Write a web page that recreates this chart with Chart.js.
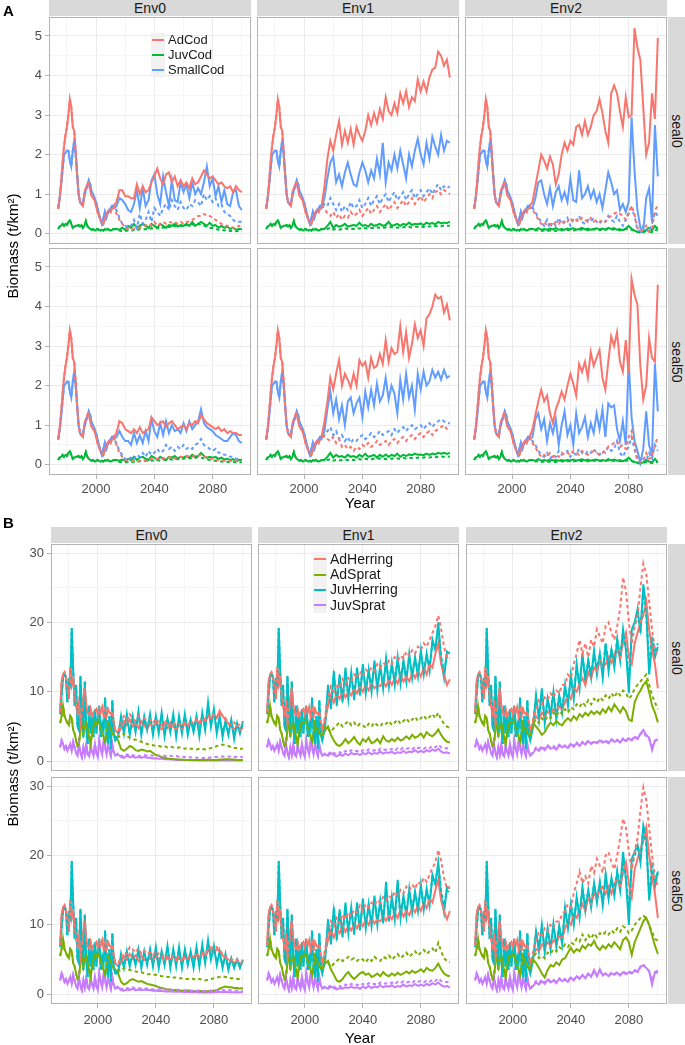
<!DOCTYPE html>
<html>
<head>
<meta charset="utf-8">
<script src="https://cdn.jsdelivr.net/npm/chart.js@4.4.0/dist/chart.umd.min.js"></script>
<style>
  body { margin: 0; background: #fff; font-family: "Liberation Sans", Arial, sans-serif; }
  #page { position: relative; width: 685px; height: 1045px; overflow: hidden; }
  canvas { position: absolute; }
  .strip { position: absolute; background: #d9d9d9; color: #1a1a1a; font-size: 14px;
           display: flex; align-items: center; justify-content: center; }
  .strip span.rot { transform: rotate(90deg); white-space: nowrap; display: inline-block; }
  .txt { position: absolute; white-space: nowrap; color: #000; }
  .key { position: absolute; background: #f2f2f2; }
  .key i { position: absolute; left: 1px; right: 1px; top: 50%; height: 2px; margin-top: -1px; }
</style>
</head>
<body>
<div id="page"></div>
<script>
// ---- years ----
const histYears = Array.from({ length: 39 }, (_, i) => 1974 + i);   // 1974..2012
const futYears = Array.from({ length: 44 }, (_, i) => 2014 + 2 * i); // 2014..2100
const years = histYears.concat(futYears);

// ================= Panel A : cod =================
const codNames = ["AdCod", "JuvCod", "SmallCod"];
const codColors = ["#F8766D", "#00BA38", "#619CFF"];

const adCodHist = [0.63, 0.9, 1.3, 1.8, 2.2, 2.5, 2.7, 3.0, 3.4, 3.2,
  2.7, 2.6, 2.1, 1.5, 1.0, 0.8, 0.75, 0.7, 1.05, 1.15,
  1.25, 1.3, 1.1, 0.95, 0.9, 0.85, 0.7, 0.55, 0.45, 0.35,
  0.3, 0.25, 0.35, 0.5, 0.55, 0.6, 0.55, 0.65, 0.7];
const juvCodHist = [0.12, 0.18, 0.2, 0.25, 0.2, 0.25, 0.22, 0.3, 0.34, 0.25,
  0.15, 0.18, 0.2, 0.2, 0.22, 0.18, 0.22, 0.15, 0.2, 0.32,
  0.2, 0.15, 0.12, 0.1, 0.12, 0.08, 0.1, 0.12, 0.1, 0.08,
  0.1, 0.08, 0.12, 0.1, 0.12, 0.1, 0.08, 0.1, 0.12];
const smallCodHist = [0.65, 0.9, 1.2, 1.6, 2.0, 2.05, 2.1, 2.1, 1.85, 1.7,
  2.1, 2.35, 2.0, 1.5, 1.0, 0.8, 0.75, 0.8, 0.95, 1.1,
  1.2, 1.35, 1.25, 1.05, 1.0, 0.9, 0.8, 0.65, 0.5, 0.35,
  0.25, 0.4, 0.55, 0.4, 0.5, 0.6, 0.65, 0.7, 0.65];

// Env0 seal0
const adCodE0S0 = [0.8, 1.1, 1.1, 0.95, 0.95, 0.9, 0.9, 1.25, 1.0, 1.2, 1.05,
  1.1, 1.3, 1.45, 1.65, 1.4, 1.25, 1.5, 1.55, 1.3, 1.45, 1.2,
  1.35, 1.2, 1.3, 1.15, 1.4, 1.25, 1.3, 1.45, 1.6, 1.5, 1.4,
  1.45, 1.35, 1.25, 1.3, 1.2, 1.15, 1.2, 1.05, 1.2, 1.1, 1.05];
const adCodE0S0Dash = [0.5, 0.35, 0.25, 0.15, 0.12, 0.1, 0.12, 0.15, 0.15, 0.2, 0.2,
  0.25, 0.2, 0.3, 0.2, 0.25, 0.3, 0.25, 0.3, 0.28, 0.3, 0.25,
  0.3, 0.25, 0.3, 0.3, 0.35, 0.4, 0.45, 0.45, 0.5, 0.45, 0.45,
  0.4, 0.35, 0.3, 0.25, 0.2, 0.2, 0.2, 0.15, 0.15, 0.2, 0.15];
const juvCodE0S0 = [0.12, 0.1, 0.15, 0.1, 0.2, 0.15, 0.25, 0.15, 0.2, 0.25, 0.2,
  0.15, 0.25, 0.2, 0.15, 0.25, 0.2, 0.15, 0.22, 0.2, 0.25, 0.18,
  0.22, 0.2, 0.25, 0.2, 0.3, 0.2, 0.25, 0.3, 0.25, 0.2, 0.28,
  0.2, 0.22, 0.15, 0.2, 0.15, 0.18, 0.12, 0.15, 0.1, 0.12, 0.12];
const juvCodE0S0Dash = [0.1, 0.08, 0.06, 0.07, 0.08, 0.07, 0.1, 0.08, 0.12, 0.1, 0.12,
  0.1, 0.14, 0.12, 0.15, 0.12, 0.16, 0.14, 0.18, 0.15, 0.2, 0.17,
  0.2, 0.18, 0.22, 0.2, 0.24, 0.22, 0.25, 0.22, 0.2, 0.18, 0.15,
  0.14, 0.12, 0.1, 0.1, 0.08, 0.09, 0.07, 0.08, 0.06, 0.07, 0.06];
const smallCodE0S0 = [0.7, 0.9, 0.85, 0.75, 0.6, 0.55, 0.75, 1.1, 0.65, 1.15, 0.7,
  0.85, 1.35, 1.5, 1.0, 0.75, 1.45, 1.05, 0.7, 1.35, 0.85, 0.8,
  1.3, 1.05, 1.25, 0.9, 1.3, 1.0, 1.15, 1.0, 1.3, 1.7, 1.2,
  1.4, 0.95, 1.2, 0.8, 1.1, 0.75, 0.7, 1.05, 1.1, 0.7, 0.6];
const smallCodE0S0Dash = [0.6, 0.4, 0.25, 0.2, 0.15, 0.2, 0.35, 0.15, 0.5, 0.25, 0.35,
  0.55, 0.3, 0.65, 0.55, 0.45, 0.65, 0.75, 0.6, 0.85, 0.7, 0.6,
  0.8, 0.65, 0.6, 0.75, 0.7, 0.85, 0.8, 0.7, 1.0, 0.85, 0.95,
  0.8, 0.9, 0.7, 0.75, 0.55, 0.5, 0.45, 0.35, 0.3, 0.3, 0.3];

// Env1 seal0
const adCodE1S0 = [1.2, 1.9, 2.35, 2.1, 2.5, 2.85, 2.25, 2.6, 2.3, 2.65, 2.25,
  2.7, 2.5, 2.35, 2.6, 3.0, 2.75, 3.05, 2.8, 3.15, 2.9, 3.45,
  3.1, 3.0, 3.3, 3.05, 3.55, 3.3, 3.6, 3.2, 3.45, 3.35, 3.9,
  3.6, 3.85, 3.6, 3.95, 4.15, 4.2, 4.6, 4.5, 4.25, 4.4, 3.95];
const adCodE1S0Dash = [0.65, 0.5, 0.45, 0.55, 0.4, 0.5, 0.35, 0.45, 0.4, 0.55, 0.45,
  0.5, 0.6, 0.45, 0.55, 0.65, 0.5, 0.6, 0.7, 0.55, 0.65, 0.75,
  0.6, 0.7, 0.8, 0.65, 0.75, 0.85, 0.7, 0.8, 0.9, 0.75, 0.85,
  0.95, 0.8, 0.9, 1.0, 0.9, 1.05, 1.1, 1.0, 1.1, 1.05, 1.0];
const juvCodE1S0 = [0.12, 0.2, 0.3, 0.15, 0.22, 0.18, 0.2, 0.25, 0.18, 0.2, 0.22,
  0.2, 0.28, 0.2, 0.22, 0.18, 0.25, 0.2, 0.22, 0.25, 0.2, 0.22,
  0.3, 0.2, 0.22, 0.25, 0.2, 0.25, 0.22, 0.28, 0.22, 0.25, 0.24,
  0.26, 0.22, 0.28, 0.25, 0.27, 0.24, 0.3, 0.26, 0.28, 0.27, 0.3];
const juvCodE1S0Dash = [0.1, 0.12, 0.15, 0.1, 0.12, 0.1, 0.12, 0.14, 0.12, 0.13, 0.12,
  0.14, 0.13, 0.15, 0.14, 0.13, 0.15, 0.14, 0.16, 0.15, 0.14, 0.16,
  0.15, 0.17, 0.16, 0.15, 0.17, 0.16, 0.18, 0.17, 0.16, 0.18, 0.17,
  0.18, 0.17, 0.19, 0.18, 0.2, 0.19, 0.2, 0.19, 0.21, 0.2, 0.2];
const smallCodE1S0 = [0.9, 1.4, 1.8, 1.95, 1.3, 1.5, 1.2, 1.55, 1.8, 1.5, 1.25,
  1.2, 1.55, 1.8, 1.6, 1.3, 1.6, 1.4, 1.9, 1.5, 2.3, 1.3,
  1.8, 1.6, 2.0, 1.65, 2.1, 1.75, 1.4, 2.0, 1.7, 2.1, 2.4,
  2.0, 1.75, 2.3, 1.9, 2.45, 2.2, 2.0, 2.5, 2.1, 2.35, 2.3];
const smallCodE1S0Dash = [0.75, 0.7, 0.9, 0.75, 0.6, 0.75, 0.55, 0.7, 0.6, 0.8, 0.65,
  0.7, 0.85, 0.65, 0.75, 0.9, 0.7, 0.85, 0.95, 0.75, 0.9, 1.0,
  0.8, 0.95, 1.05, 0.85, 0.95, 1.05, 0.85, 1.0, 1.1, 0.9, 1.0,
  1.1, 0.95, 1.05, 1.15, 1.0, 1.15, 1.25, 1.1, 1.2, 1.15, 1.2];

// Env2 seal0
const adCodE2S0 = [0.8, 1.2, 1.6, 2.0, 1.85, 1.65, 1.95, 1.75, 1.25, 1.5, 2.0,
  2.3, 2.1, 2.35, 2.25, 2.7, 2.75, 2.5, 2.85, 2.5, 2.7, 3.0,
  3.1, 3.4, 3.05, 2.6, 2.3, 3.55, 3.75, 3.55, 3.1, 2.7, 3.45,
  2.95, 3.0, 5.2, 4.7, 4.4, 3.2, 2.0, 2.3, 3.55, 2.9, 4.95];
const adCodE2S0Dash = [0.6, 0.5, 0.35, 0.25, 0.3, 0.2, 0.25, 0.2, 0.3, 0.25, 0.35,
  0.25, 0.3, 0.4, 0.3, 0.35, 0.3, 0.4, 0.35, 0.3, 0.4, 0.3,
  0.35, 0.3, 0.35, 0.3, 0.4, 0.45, 0.5, 0.55, 0.5, 0.45, 0.35,
  0.55, 0.7, 0.5, 0.15, 0.05, 0.1, 0.2, 0.05, 0.1, 0.6, 0.7];
const juvCodE2S0 = [0.12, 0.1, 0.14, 0.1, 0.12, 0.1, 0.13, 0.11, 0.14, 0.1, 0.12,
  0.1, 0.13, 0.11, 0.14, 0.1, 0.12, 0.15, 0.11, 0.13, 0.1, 0.12,
  0.14, 0.11, 0.13, 0.1, 0.15, 0.12, 0.14, 0.1, 0.12, 0.09, 0.13,
  0.2, 0.12, 0.08, 0.05, 0.04, 0.06, 0.1, 0.15, 0.08, 0.2, 0.12];
const juvCodE2S0Dash = [0.1, 0.08, 0.09, 0.07, 0.08, 0.07, 0.08, 0.09, 0.07, 0.08, 0.09,
  0.08, 0.1, 0.09, 0.08, 0.1, 0.09, 0.11, 0.1, 0.09, 0.1, 0.11,
  0.1, 0.09, 0.11, 0.1, 0.12, 0.1, 0.11, 0.1, 0.09, 0.1, 0.11,
  0.12, 0.1, 0.08, 0.04, 0.03, 0.04, 0.06, 0.05, 0.04, 0.1, 0.08];
const smallCodE2S0 = [0.65, 0.9, 1.3, 1.35, 1.0, 0.75, 1.15, 0.7, 1.05, 1.2, 0.85,
  1.05, 0.8, 1.4, 0.85, 0.8, 1.6, 0.9, 1.0, 1.2, 0.9, 1.1,
  0.8, 1.0, 0.65, 1.1, 1.55, 1.3, 1.0, 1.1, 0.6, 0.75, 0.55,
  0.8, 2.95, 1.6, 0.6, 0.15, 0.05, 0.9, 1.15, 0.3, 2.75, 1.45];
const smallCodE2S0Dash = [0.65, 0.55, 0.4, 0.3, 0.2, 0.35, 0.15, 0.3, 0.2, 0.4, 0.25,
  0.3, 0.4, 0.2, 0.35, 0.3, 0.45, 0.3, 0.25, 0.35, 0.3, 0.4,
  0.3, 0.25, 0.35, 0.3, 0.45, 0.35, 0.3, 0.45, 0.3, 0.2, 0.35,
  0.5, 0.65, 0.45, 0.1, 0.05, 0.2, 0.1, 0.05, 0.25, 0.55, 0.45];

// Env0 seal50
const adCodE0S50 = [0.8, 1.1, 1.05, 0.9, 0.85, 0.8, 0.9, 0.8, 0.95, 0.8, 0.85,
  0.9, 1.2, 1.1, 1.0, 1.05, 1.1, 0.95, 1.05, 1.1, 1.0, 0.9,
  0.95, 1.0, 0.9, 1.05, 1.0, 1.1, 1.05, 1.25, 1.15, 1.05, 1.0,
  0.95, 0.9, 0.95, 0.85, 0.9, 0.8, 0.85, 0.8, 0.8, 0.75, 0.75];
const adCodE0S50Dash = [0.5, 0.3, 0.2, 0.12, 0.1, 0.08, 0.1, 0.08, 0.1, 0.12, 0.1,
  0.12, 0.15, 0.12, 0.15, 0.18, 0.15, 0.2, 0.18, 0.2, 0.15, 0.18,
  0.2, 0.18, 0.2, 0.22, 0.2, 0.25, 0.22, 0.25, 0.2, 0.18, 0.15,
  0.15, 0.12, 0.12, 0.1, 0.1, 0.08, 0.1, 0.08, 0.1, 0.08, 0.1];
const juvCodE0S50 = [0.12, 0.1, 0.13, 0.1, 0.15, 0.12, 0.2, 0.12, 0.18, 0.2, 0.15,
  0.12, 0.22, 0.18, 0.12, 0.2, 0.15, 0.12, 0.2, 0.18, 0.22, 0.15,
  0.2, 0.18, 0.22, 0.18, 0.25, 0.2, 0.22, 0.3, 0.22, 0.18, 0.2,
  0.18, 0.2, 0.15, 0.18, 0.13, 0.15, 0.12, 0.14, 0.1, 0.12, 0.12];
const juvCodE0S50Dash = [0.1, 0.07, 0.06, 0.06, 0.07, 0.06, 0.08, 0.07, 0.09, 0.08, 0.1,
  0.09, 0.11, 0.1, 0.12, 0.1, 0.13, 0.12, 0.14, 0.13, 0.15, 0.14,
  0.16, 0.15, 0.17, 0.16, 0.18, 0.17, 0.2, 0.18, 0.16, 0.14, 0.12,
  0.11, 0.1, 0.09, 0.08, 0.07, 0.07, 0.06, 0.07, 0.06, 0.06, 0.06];
const smallCodE0S50 = [0.7, 0.85, 0.7, 0.6, 0.6, 0.5, 0.8, 0.55, 0.75, 0.55, 0.85,
  0.6, 1.15, 0.85, 0.7, 1.05, 0.75, 1.1, 0.8, 1.0, 0.85, 0.9,
  0.8, 1.05, 0.85, 1.1, 0.9, 1.0, 1.1, 1.4, 1.05, 0.95, 0.9,
  0.85, 0.75, 0.7, 0.65, 0.6, 0.6, 0.7, 0.8, 0.75, 0.6, 0.55];
const smallCodE0S50Dash = [0.55, 0.35, 0.25, 0.15, 0.1, 0.2, 0.15, 0.25, 0.2, 0.3, 0.2,
  0.35, 0.25, 0.3, 0.4, 0.3, 0.35, 0.5, 0.4, 0.45, 0.35, 0.45,
  0.4, 0.5, 0.4, 0.45, 0.4, 0.5, 0.55, 0.65, 0.5, 0.45, 0.4,
  0.35, 0.4, 0.3, 0.3, 0.25, 0.25, 0.2, 0.2, 0.15, 0.15, 0.15];

// Env1 seal50
const adCodE1S50 = [1.1, 1.6, 2.2, 1.9, 2.3, 2.65, 2.0, 2.3, 2.15, 1.95, 2.3,
  2.0, 2.65, 2.5, 2.6, 2.2, 2.7, 2.45, 2.5, 2.8, 2.55, 3.15,
  2.6, 2.95, 2.8, 2.85, 3.5, 2.85, 3.35, 2.7, 3.05, 3.55, 3.2,
  3.4, 3.0, 3.7, 3.8, 4.0, 4.3, 4.2, 4.25, 3.85, 4.05, 3.65];
const adCodE1S50Dash = [0.7, 0.65, 0.6, 0.7, 0.55, 0.65, 0.45, 0.5, 0.4, 0.45, 0.35,
  0.45, 0.4, 0.5, 0.45, 0.55, 0.45, 0.5, 0.6, 0.5, 0.55, 0.6,
  0.5, 0.6, 0.65, 0.55, 0.65, 0.7, 0.6, 0.7, 0.75, 0.65, 0.75,
  0.8, 0.7, 0.8, 0.85, 0.75, 0.85, 0.9, 0.95, 1.0, 0.9, 0.85];
const juvCodE1S50 = [0.12, 0.2, 0.3, 0.18, 0.25, 0.2, 0.22, 0.18, 0.25, 0.2, 0.22,
  0.18, 0.25, 0.2, 0.28, 0.2, 0.22, 0.25, 0.18, 0.25, 0.2, 0.26,
  0.2, 0.25, 0.22, 0.28, 0.2, 0.25, 0.22, 0.26, 0.24, 0.28, 0.25,
  0.26, 0.24, 0.28, 0.25, 0.28, 0.26, 0.3, 0.28, 0.3, 0.27, 0.3];
const juvCodE1S50Dash = [0.1, 0.12, 0.14, 0.1, 0.12, 0.11, 0.12, 0.13, 0.12, 0.13, 0.12,
  0.13, 0.14, 0.13, 0.15, 0.14, 0.13, 0.15, 0.14, 0.16, 0.15, 0.14,
  0.16, 0.15, 0.17, 0.16, 0.15, 0.17, 0.16, 0.18, 0.17, 0.16, 0.18,
  0.17, 0.18, 0.19, 0.18, 0.2, 0.19, 0.2, 0.21, 0.2, 0.21, 0.2];
const smallCodE1S50 = [0.85, 1.4, 1.85, 1.3, 1.65, 1.15, 1.5, 1.0, 1.6, 1.7, 1.3,
  1.55, 1.7, 1.2, 1.85, 1.45, 1.9, 1.5, 2.05, 1.6, 1.75, 2.2,
  1.65, 2.0, 1.8, 1.3, 2.15, 1.65, 2.3, 1.7, 2.0, 1.4, 2.3,
  1.9, 2.35, 2.0, 2.1, 2.4, 2.2, 2.35, 2.15, 2.4, 2.2, 2.25];
const smallCodE1S50Dash = [0.75, 0.85, 0.95, 0.75, 0.85, 0.65, 0.75, 0.6, 0.7, 0.55, 0.65,
  0.6, 0.7, 0.75, 0.65, 0.7, 0.8, 0.7, 0.75, 0.85, 0.75, 0.8,
  0.85, 0.75, 0.9, 0.8, 0.9, 0.95, 0.85, 0.95, 1.0, 0.9, 0.95,
  1.0, 0.9, 1.0, 1.05, 0.95, 1.05, 1.1, 1.15, 1.1, 1.05, 1.05];

// Env2 seal50
const adCodE2S50 = [0.9, 1.25, 1.6, 1.9, 1.6, 1.75, 1.3, 1.05, 1.4, 1.6, 1.85,
  1.65, 2.0, 2.3, 2.05, 1.75, 2.55, 2.35, 2.6, 2.2, 2.85, 2.5,
  2.7, 2.9, 2.2, 1.9, 2.6, 3.25, 3.0, 3.35, 2.6, 2.35, 3.15,
  2.3, 4.7, 4.3, 4.05, 2.5, 1.65, 2.0, 3.2, 2.7, 2.6, 4.55];
const adCodE2S50Dash = [0.55, 0.45, 0.3, 0.2, 0.25, 0.2, 0.3, 0.2, 0.25, 0.2, 0.3,
  0.25, 0.3, 0.25, 0.35, 0.3, 0.25, 0.35, 0.3, 0.25, 0.3, 0.35,
  0.3, 0.25, 0.3, 0.35, 0.45, 0.5, 0.55, 0.6, 0.45, 0.5, 0.4,
  0.7, 0.85, 0.45, 0.15, 0.05, 0.1, 0.3, 0.15, 0.2, 0.5, 0.7];
const juvCodE2S50 = [0.12, 0.1, 0.14, 0.1, 0.12, 0.1, 0.13, 0.11, 0.12, 0.1, 0.12,
  0.1, 0.12, 0.11, 0.13, 0.1, 0.12, 0.14, 0.11, 0.13, 0.1, 0.12,
  0.13, 0.1, 0.12, 0.1, 0.14, 0.11, 0.13, 0.1, 0.12, 0.09, 0.12,
  0.18, 0.1, 0.07, 0.05, 0.04, 0.06, 0.12, 0.08, 0.06, 0.15, 0.06];
const juvCodE2S50Dash = [0.1, 0.08, 0.09, 0.07, 0.08, 0.07, 0.08, 0.08, 0.07, 0.08, 0.09,
  0.08, 0.09, 0.09, 0.08, 0.1, 0.09, 0.1, 0.09, 0.09, 0.1, 0.1,
  0.1, 0.09, 0.1, 0.09, 0.11, 0.1, 0.1, 0.09, 0.09, 0.1, 0.1,
  0.11, 0.09, 0.07, 0.04, 0.03, 0.04, 0.07, 0.05, 0.04, 0.08, 0.06];
const smallCodE2S50 = [0.7, 1.15, 1.3, 0.9, 1.15, 0.6, 1.05, 0.8, 1.15, 0.5, 1.0,
  1.35, 0.75, 1.0, 0.5, 1.3, 0.8, 0.95, 1.2, 0.7, 1.05, 0.8,
  1.3, 0.9, 1.4, 0.7, 1.55, 1.45, 1.5, 0.9, 0.6, 1.1, 0.5,
  2.65, 1.2, 0.6, 0.35, 0.05, 0.4, 1.35, 0.5, 0.25, 2.55, 1.35];
const smallCodE2S50Dash = [0.6, 0.5, 0.35, 0.25, 0.2, 0.3, 0.15, 0.25, 0.2, 0.35, 0.25,
  0.3, 0.35, 0.2, 0.3, 0.25, 0.4, 0.3, 0.25, 0.35, 0.3, 0.4,
  0.3, 0.25, 0.35, 0.3, 0.45, 0.35, 0.4, 0.6, 0.3, 0.2, 0.35,
  0.45, 0.7, 0.4, 0.1, 0.05, 0.15, 0.1, 0.3, 0.15, 0.5, 0.35];

// ================= Panel B : herring & sprat =================
const fishNames = ["AdHerring", "AdSprat", "JuvHerring", "JuvSprat"];
const fishColors = ["#F8766D", "#7CAE00", "#00BFC4", "#C77CFF"];

const adHerringHist = [7.0, 11.5, 12.5, 12.8, 12.0, 10.5, 9.0, 13.5, 11.0, 12.0,
  9.5, 8.0, 7.0, 8.5, 5.5, 7.0, 9.0, 10.5, 8.0, 7.0,
  6.5, 7.5, 6.5, 7.0, 7.2, 7.5, 6.8, 7.6, 7.0, 7.8,
  6.5, 7.5, 6.5, 7.5, 7.0, 6.8, 7.2, 5.5, 4.5];
const adSpratHist = [5.5, 6.5, 8.0, 6.5, 6.0, 5.5, 5.2, 6.5, 6.2, 4.5,
  4.0, 3.0, 2.2, 2.5, 4.5, 5.5, 4.0, 5.0, 5.5, 4.5,
  3.5, 2.5, 4.0, 5.0, 5.8, 5.5, 6.0, 5.5, 4.8, 4.0,
  3.5, 2.8, 4.0, 5.5, 5.0, 4.5, 4.0, 3.8, 3.5];
const juvHerringHist = [6.8, 9.5, 12.0, 12.5, 12.2, 8.5, 12.0, 10.5, 19.2, 13.0,
  8.0, 11.0, 5.0, 4.5, 12.3, 7.0, 3.5, 11.5, 5.0, 2.5,
  8.0, 4.0, 6.5, 3.5, 7.5, 4.0, 6.5, 8.0, 3.5, 5.5,
  4.5, 9.2, 4.0, 2.5, 6.5, 1.8, 8.8, 4.0, 3.0];
const juvSpratHist = [2.0, 3.0, 2.5, 1.8, 2.2, 1.5, 2.0, 2.5, 1.5, 2.8,
  2.0, 1.2, 0.8, 2.5, 1.2, 0.6, 2.0, 1.0, 2.5, 1.0,
  0.7, 2.2, 1.5, 0.8, 2.5, 1.2, 0.6, 3.0, 1.8, 1.0,
  3.0, 2.0, 1.0, 2.5, 1.5, 0.8, 2.4, 1.3, 0.8];

// Env0 seal0
const adHerE0S0 = [4.0, 4.8, 5.8, 5.2, 6.0, 5.0, 5.5, 4.8, 5.8, 5.2, 4.6,
  5.5, 4.8, 5.6, 5.0, 4.6, 5.4, 4.8, 5.6, 5.0, 4.5, 5.3,
  4.7, 5.5, 5.0, 5.8, 5.2, 6.0, 5.4, 6.2, 5.6, 6.5, 6.0,
  6.8, 6.2, 7.3, 6.5, 6.0, 5.4, 5.0, 4.6, 5.0, 4.5, 4.8];
const adHerE0S0Dash = [4.5, 5.5, 6.5, 6.0, 6.8, 6.2, 5.8, 6.5, 5.6, 6.2, 5.8,
  6.0, 5.5, 6.2, 5.6, 5.2, 5.8, 5.4, 5.0, 5.6, 5.2, 5.4,
  5.0, 5.6, 5.2, 5.8, 5.4, 6.0, 5.6, 6.3, 6.0, 6.6, 6.2,
  6.8, 6.4, 7.0, 6.6, 6.2, 5.6, 5.2, 5.6, 5.0, 5.4, 5.6];
const adSprE0S0 = [3.0, 1.8, 1.5, 1.8, 2.2, 2.0, 1.6, 1.5, 1.7, 1.6, 1.4,
  1.5, 1.2, 0.9, 0.8, 0.6, 0.5, 0.4, 0.35, 0.3, 0.3, 0.25,
  0.25, 0.2, 0.2, 0.2, 0.2, 0.2, 0.2, 0.2, 0.2, 0.25, 0.2,
  0.2, 0.2, 0.25, 0.25, 0.3, 0.3, 0.25, 0.25, 0.2, 0.2, 0.2];
const adSprE0S0Dash = [3.5, 3.6, 4.0, 3.6, 3.4, 3.2, 3.1, 3.0, 2.8, 2.6, 2.5,
  2.4, 2.3, 2.2, 2.2, 2.1, 2.2, 2.0, 2.1, 2.0, 1.9, 2.0,
  1.9, 1.8, 1.9, 1.8, 1.8, 1.7, 1.8, 1.8, 1.7, 1.8, 1.9,
  2.0, 2.2, 2.3, 2.4, 2.3, 2.2, 2.0, 1.9, 1.9, 1.8, 1.8];
const juvHerE0S0 = [3.5, 6.5, 4.0, 6.8, 3.8, 6.5, 4.2, 7.2, 3.8, 6.5, 4.5,
  6.8, 3.8, 6.5, 4.0, 7.0, 3.6, 6.2, 4.2, 6.8, 3.5, 6.5,
  4.0, 6.8, 3.8, 6.0, 4.2, 6.5, 3.6, 7.0, 4.5, 8.5, 5.0,
  7.5, 4.0, 6.5, 3.5, 5.8, 3.8, 6.0, 3.2, 5.5, 4.0, 5.8];
const juvHerE0S0Dash = [4.0, 5.8, 4.5, 6.2, 4.2, 5.8, 4.8, 6.5, 4.2, 6.0, 4.8,
  6.2, 4.4, 6.0, 4.6, 6.5, 4.2, 5.8, 4.8, 6.2, 4.2, 6.0,
  4.6, 6.4, 4.4, 5.8, 4.8, 6.2, 4.2, 6.6, 5.0, 7.5, 5.4,
  7.0, 4.6, 6.0, 4.2, 5.5, 4.4, 5.6, 4.0, 5.2, 4.5, 5.2];
const juvSprE0S0 = [1.0, 0.6, 0.5, 0.8, 0.6, 0.7, 0.5, 0.6, 0.5, 0.6, 0.5,
  0.5, 0.4, 0.45, 0.35, 0.4, 0.3, 0.3, 0.25, 0.25, 0.2, 0.2,
  0.2, 0.18, 0.18, 0.15, 0.15, 0.15, 0.12, 0.12, 0.12, 0.12, 0.1,
  0.1, 0.1, 0.1, 0.1, 0.1, 0.1, 0.1, 0.1, 0.1, 0.1, 0.1];
const juvSprE0S0Dash = [1.2, 0.8, 0.7, 1.0, 0.8, 0.9, 0.7, 0.8, 0.7, 0.9, 0.8,
  0.9, 0.8, 0.85, 0.8, 0.9, 0.8, 0.75, 0.8, 0.7, 0.75, 0.65,
  0.7, 0.6, 0.65, 0.55, 0.6, 0.5, 0.5, 0.45, 0.5, 0.5, 0.55,
  0.6, 0.6, 0.65, 0.7, 0.65, 0.7, 0.65, 0.6, 0.65, 0.6, 0.6];

// Env1 seal0
const adHerE1S0 = [6.0, 8.0, 9.5, 8.5, 9.8, 9.0, 10.2, 9.2, 10.0, 9.5, 10.5,
  9.8, 10.8, 10.0, 11.0, 10.2, 11.2, 10.5, 11.0, 10.8, 11.5, 10.8,
  11.8, 11.0, 12.0, 11.2, 12.5, 11.5, 12.2, 11.5, 12.8, 12.0, 13.0,
  12.2, 13.5, 12.5, 14.0, 13.5, 15.5, 17.0, 14.0, 12.5, 11.0, 11.8];
const adHerE1S0Dash = [6.5, 9.0, 10.8, 10.0, 11.2, 10.5, 11.8, 11.0, 12.0, 11.5, 12.5,
  12.0, 13.0, 12.2, 13.2, 12.8, 13.5, 13.0, 14.0, 13.5, 14.2, 13.8,
  14.5, 14.0, 15.0, 14.5, 15.2, 14.8, 15.8, 15.2, 16.0, 15.5, 16.5,
  16.0, 17.0, 16.5, 17.5, 18.5, 19.5, 21.0, 19.0, 16.5, 15.0, 15.2];
const adSprE1S0 = [4.5, 5.0, 3.8, 3.0, 2.4, 2.2, 2.6, 3.2, 2.6, 3.0, 3.5,
  2.8, 2.4, 3.2, 2.8, 3.4, 2.6, 2.8, 3.2, 2.6, 3.6, 3.0,
  2.8, 3.2, 2.9, 3.4, 3.0, 3.2, 3.6, 3.2, 3.8, 3.4, 3.6,
  4.0, 3.4, 4.2, 3.8, 3.6, 4.0, 4.6, 3.8, 3.2, 2.8, 2.7];
const adSprE1S0Dash = [5.0, 4.6, 4.2, 4.8, 5.2, 5.6, 5.0, 5.4, 5.8, 5.2, 5.6,
  5.0, 5.4, 5.2, 4.8, 5.4, 5.0, 5.6, 5.2, 5.0, 5.6, 5.4,
  5.8, 5.2, 5.6, 6.0, 5.4, 5.8, 6.2, 5.6, 6.0, 6.4, 5.8,
  6.2, 6.6, 6.0, 6.4, 6.8, 6.2, 7.0, 6.0, 5.4, 5.0, 4.8];
const juvHerE1S0 = [5.0, 11.0, 7.5, 13.0, 8.0, 12.5, 8.5, 13.5, 9.0, 12.8, 8.8,
  13.5, 9.5, 14.0, 9.8, 13.2, 10.0, 14.5, 10.2, 13.8, 10.5, 14.8,
  10.8, 14.2, 11.0, 15.0, 11.2, 14.5, 11.5, 15.5, 12.0, 15.0, 12.2,
  16.0, 12.5, 15.5, 13.0, 17.5, 16.0, 20.0, 14.5, 12.0, 15.8, 15.5];
const juvHerE1S0Dash = [5.5, 10.2, 8.0, 12.2, 8.8, 11.8, 9.2, 12.5, 9.6, 12.2, 9.8,
  12.8, 10.2, 13.2, 10.5, 12.8, 10.8, 13.8, 11.0, 13.2, 11.2, 14.0,
  11.5, 13.8, 11.8, 14.5, 12.0, 14.2, 12.2, 15.0, 12.8, 14.8, 13.0,
  15.5, 13.2, 15.0, 13.8, 17.0, 16.5, 19.0, 15.0, 13.0, 15.2, 14.8];
const juvSprE1S0 = [1.0, 0.8, 1.2, 0.9, 0.7, 1.0, 0.8, 1.1, 0.9, 1.2, 1.0,
  1.1, 0.9, 1.2, 1.0, 1.3, 1.0, 1.2, 1.1, 1.4, 1.1, 1.3,
  1.2, 1.4, 1.1, 1.3, 1.2, 1.5, 1.2, 1.4, 1.3, 1.6, 1.3,
  1.5, 1.3, 1.6, 1.4, 1.7, 1.5, 1.8, 1.4, 1.2, 1.3, 1.1];
const juvSprE1S0Dash = [1.2, 1.0, 1.4, 1.2, 1.0, 1.3, 1.1, 1.5, 1.3, 1.6, 1.4,
  1.5, 1.3, 1.6, 1.4, 1.7, 1.5, 1.6, 1.4, 1.8, 1.6, 1.7,
  1.6, 1.8, 1.5, 1.9, 1.7, 2.0, 1.8, 1.9, 1.7, 2.1, 1.9,
  2.0, 1.8, 2.1, 1.9, 2.2, 2.0, 2.4, 2.0, 1.8, 1.9, 1.7];

// Env2 seal0
const adHerE2S0 = [5.5, 6.5, 6.0, 7.0, 6.5, 7.2, 6.8, 7.5, 7.0, 8.0, 7.5,
  8.5, 9.5, 9.0, 10.5, 10.0, 11.2, 12.0, 11.0, 12.8, 12.0, 13.5,
  13.0, 14.5, 13.5, 14.0, 15.0, 14.2, 15.5, 16.0, 15.0, 17.0, 18.5,
  15.0, 14.0, 17.0, 18.5, 20.0, 21.0, 23.0, 19.0, 16.0, 14.0, 10.5];
const adHerE2S0Dash = [6.0, 7.5, 8.8, 8.2, 9.2, 8.8, 9.8, 9.2, 10.2, 9.8, 11.0,
  11.0, 12.5, 12.0, 14.0, 15.5, 17.5, 15.5, 17.0, 15.0, 17.5, 16.5,
  19.0, 18.0, 17.0, 19.5, 20.0, 18.5, 17.5, 19.5, 22.0, 26.5, 24.5,
  20.0, 17.0, 19.5, 21.0, 25.0, 28.5, 27.0, 23.0, 19.0, 16.0, 15.0];
const adSprE2S0 = [5.5, 5.0, 4.5, 3.8, 4.2, 5.0, 5.6, 5.2, 5.8, 5.4, 5.2,
  5.8, 6.2, 5.8, 6.5, 6.0, 6.8, 6.4, 7.0, 6.6, 7.2, 6.8,
  7.2, 6.8, 7.5, 7.0, 7.8, 7.2, 8.2, 7.6, 7.0, 7.8, 7.2,
  6.0, 5.8, 8.5, 9.5, 10.2, 11.0, 11.5, 10.0, 8.0, 7.0, 5.6];
const adSprE2S0Dash = [5.5, 6.0, 5.5, 6.2, 5.8, 6.5, 6.2, 7.0, 6.5, 7.2, 6.8,
  7.5, 7.0, 7.8, 7.5, 8.2, 7.8, 8.5, 8.0, 8.8, 8.2, 9.0,
  8.5, 9.2, 8.8, 9.5, 9.0, 9.8, 9.2, 10.0, 9.5, 10.2, 9.8,
  9.0, 9.5, 10.5, 11.0, 11.5, 12.0, 12.5, 11.0, 9.5, 8.5, 7.5];
const juvHerE2S0 = [5.0, 9.5, 6.0, 10.5, 5.5, 9.0, 6.5, 10.0, 6.0, 9.5, 7.0,
  11.0, 8.0, 12.5, 9.0, 14.0, 10.5, 15.5, 11.5, 14.5, 12.0, 16.0,
  12.5, 15.5, 12.0, 17.0, 13.0, 16.0, 13.5, 17.5, 14.5, 19.0, 16.0,
  9.8, 19.0, 20.0, 22.0, 18.5, 25.5, 22.0, 12.5, 17.0, 15.0, 16.5];
const juvHerE2S0Dash = [5.5, 9.0, 6.5, 10.0, 6.0, 9.0, 7.0, 9.8, 6.8, 9.5, 7.5,
  10.5, 8.5, 12.0, 9.5, 13.5, 11.0, 15.0, 12.0, 14.5, 12.5, 15.5,
  13.5, 15.5, 13.0, 17.0, 14.0, 16.0, 14.5, 17.5, 15.0, 18.5, 16.5,
  12.0, 18.0, 19.5, 21.0, 19.0, 24.5, 21.0, 14.0, 18.0, 16.0, 17.0];
const juvSprE2S0 = [1.2, 1.8, 1.5, 2.0, 1.6, 2.2, 1.8, 2.0, 1.7, 2.3, 2.0,
  2.2, 1.9, 2.5, 2.1, 2.6, 2.2, 2.7, 2.4, 2.9, 2.5, 2.8,
  2.6, 3.0, 2.7, 2.9, 2.6, 3.1, 2.8, 3.0, 2.7, 3.2, 2.9,
  3.3, 3.0, 3.5, 3.2, 4.0, 4.5, 3.8, 3.4, 1.6, 3.0, 3.2];
const juvSprE2S0Dash = [1.4, 2.0, 1.7, 2.2, 1.8, 2.3, 2.0, 2.2, 1.9, 2.4, 2.1,
  2.3, 2.0, 2.6, 2.2, 2.7, 2.3, 2.8, 2.5, 3.0, 2.6, 2.9,
  2.7, 3.1, 2.8, 3.0, 2.7, 3.2, 2.9, 3.1, 2.8, 3.3, 3.0,
  3.4, 3.1, 3.6, 3.3, 3.9, 4.2, 3.6, 3.2, 2.2, 2.9, 3.1];

// Env0 seal50
const adHerE0S50 = [4.0, 4.5, 5.5, 5.0, 5.8, 5.2, 5.6, 4.8, 5.5, 5.0, 4.8,
  5.3, 4.8, 5.5, 5.0, 5.4, 4.8, 5.2, 5.0, 5.5, 4.8, 5.2,
  4.8, 5.4, 5.0, 5.6, 5.2, 5.6, 5.2, 5.8, 5.5, 6.2, 6.5,
  6.0, 6.5, 6.2, 5.6, 5.2, 5.0, 4.8, 4.5, 4.8, 4.4, 4.6];
const adHerE0S50Dash = [4.5, 5.2, 6.0, 5.8, 6.8, 6.5, 6.0, 6.6, 5.8, 6.3, 5.8,
  6.0, 5.6, 6.2, 5.8, 5.4, 5.8, 5.4, 5.2, 5.6, 5.2, 5.4,
  5.0, 5.4, 5.2, 5.6, 5.4, 5.8, 5.5, 6.0, 5.8, 6.4, 6.8,
  6.5, 6.8, 6.4, 5.8, 5.4, 5.2, 5.0, 4.8, 5.0, 4.6, 4.8];
const adSprE0S50 = [3.0, 1.8, 1.4, 1.6, 2.0, 2.2, 2.0, 1.8, 1.9, 1.7, 1.5,
  1.4, 1.3, 1.2, 1.0, 0.9, 0.8, 0.7, 0.7, 0.6, 0.6, 0.55,
  0.5, 0.5, 0.55, 0.5, 0.45, 0.45, 0.5, 0.45, 0.4, 0.45, 0.5,
  0.5, 0.6, 0.8, 1.0, 1.1, 1.0, 1.0, 0.9, 0.9, 0.85, 0.9];
const adSprE0S50Dash = [3.5, 3.4, 3.8, 3.6, 3.5, 3.4, 3.3, 3.2, 3.2, 3.0, 2.9,
  2.9, 2.8, 2.8, 2.7, 2.6, 2.6, 2.5, 2.5, 2.4, 2.4, 2.3,
  2.3, 2.2, 2.2, 2.3, 2.2, 2.1, 2.2, 2.1, 2.0, 2.1, 2.2,
  2.3, 2.4, 2.5, 2.6, 2.5, 2.4, 2.3, 2.3, 2.2, 2.2, 2.3];
const juvHerE0S50 = [3.0, 5.8, 3.8, 6.2, 4.0, 5.8, 4.2, 6.5, 3.8, 6.2, 4.2,
  6.5, 4.0, 6.8, 3.8, 6.2, 4.2, 7.0, 3.8, 6.5, 4.0, 6.8,
  3.8, 6.5, 4.2, 6.2, 3.8, 6.8, 4.0, 7.2, 4.5, 7.8, 5.0,
  7.0, 4.2, 6.2, 3.8, 5.8, 3.5, 5.2, 3.8, 5.0, 3.8, 5.0];
const juvHerE0S50Dash = [3.5, 5.2, 4.2, 5.8, 4.5, 5.5, 4.6, 6.0, 4.2, 5.8, 4.6,
  6.0, 4.4, 6.2, 4.2, 5.8, 4.6, 6.4, 4.2, 6.0, 4.4, 6.2,
  4.2, 6.0, 4.6, 5.8, 4.2, 6.2, 4.4, 6.6, 4.8, 7.2, 5.4,
  6.6, 4.6, 5.8, 4.2, 5.4, 4.0, 5.0, 4.2, 4.8, 4.2, 4.8];
const juvSprE0S50 = [1.0, 0.6, 0.5, 0.7, 0.6, 0.8, 0.6, 0.7, 0.6, 0.7, 0.6,
  0.6, 0.5, 0.55, 0.45, 0.5, 0.4, 0.45, 0.4, 0.35, 0.4, 0.35,
  0.35, 0.3, 0.35, 0.3, 0.3, 0.3, 0.25, 0.3, 0.25, 0.3, 0.25,
  0.3, 0.3, 0.35, 0.3, 0.35, 0.3, 0.3, 0.3, 0.25, 0.3, 0.3];
const juvSprE0S50Dash = [1.2, 0.8, 0.7, 0.9, 0.8, 1.0, 0.8, 0.9, 0.8, 0.9, 0.8,
  0.8, 0.7, 0.75, 0.7, 0.8, 0.7, 0.65, 0.7, 0.6, 0.65, 0.6,
  0.6, 0.55, 0.6, 0.5, 0.55, 0.5, 0.5, 0.45, 0.5, 0.45, 0.5,
  0.5, 0.5, 0.55, 0.6, 0.55, 0.6, 0.55, 0.5, 0.55, 0.5, 0.5];

// Env1 seal50
const adHerE1S50 = [6.0, 7.8, 9.2, 8.2, 9.5, 8.8, 10.0, 9.0, 9.8, 9.2, 10.2,
  9.5, 10.5, 9.8, 10.8, 10.0, 11.0, 10.2, 10.8, 10.5, 11.2, 10.6,
  11.5, 10.8, 11.8, 11.0, 12.2, 11.2, 12.0, 11.4, 12.5, 11.8, 12.8,
  12.0, 13.2, 12.4, 13.8, 13.2, 15.0, 16.5, 13.5, 12.0, 10.8, 12.0];
const adHerE1S50Dash = [6.5, 8.8, 10.5, 9.8, 11.0, 10.2, 11.5, 10.8, 11.8, 11.2, 12.2,
  11.8, 12.8, 12.0, 13.0, 12.5, 13.2, 12.8, 13.6, 13.2, 14.0, 13.5,
  14.2, 13.8, 14.8, 14.2, 15.0, 14.5, 15.5, 15.0, 15.8, 15.2, 16.2,
  15.8, 16.8, 16.2, 17.2, 18.2, 19.0, 20.8, 19.2, 16.8, 15.2, 15.5];
const adSprE1S50 = [4.5, 4.8, 3.6, 2.8, 2.0, 1.8, 2.2, 2.8, 3.2, 2.6, 2.2,
  2.6, 3.0, 3.2, 2.8, 3.0, 2.5, 2.7, 3.0, 2.6, 3.2, 2.8,
  2.6, 3.0, 2.7, 3.1, 2.8, 3.0, 3.3, 3.0, 3.4, 3.1, 3.3,
  3.6, 3.2, 3.8, 3.5, 3.4, 3.8, 4.4, 3.6, 3.0, 2.7, 2.6];
const adSprE1S50Dash = [5.0, 4.5, 4.0, 4.4, 4.8, 5.2, 4.8, 5.0, 5.4, 5.0, 5.2,
  4.8, 5.2, 5.0, 4.6, 5.2, 4.8, 5.4, 5.0, 4.8, 5.4, 5.2,
  5.6, 5.0, 5.4, 5.8, 5.2, 5.6, 6.0, 5.4, 5.8, 6.2, 5.6,
  6.0, 6.4, 5.8, 6.2, 6.6, 6.0, 7.4, 6.2, 5.2, 4.8, 4.6];
const juvHerE1S50 = [5.0, 10.8, 7.2, 12.5, 7.8, 12.2, 8.2, 13.2, 8.8, 12.5, 8.6,
  13.2, 9.2, 13.8, 9.5, 13.0, 9.8, 14.2, 10.0, 13.5, 10.2, 16.2,
  10.5, 14.0, 10.8, 16.5, 11.0, 14.2, 11.2, 15.2, 11.8, 14.8, 12.0,
  15.8, 12.2, 15.2, 12.8, 17.2, 15.8, 19.0, 14.2, 11.8, 15.5, 15.2];
const juvHerE1S50Dash = [5.5, 10.0, 7.8, 12.0, 8.5, 11.5, 9.0, 12.2, 9.4, 12.0, 9.6,
  12.5, 10.0, 13.0, 10.2, 12.5, 10.5, 13.5, 10.8, 13.0, 11.0, 14.5,
  11.2, 13.5, 11.5, 14.8, 11.8, 14.0, 12.0, 14.8, 12.5, 14.5, 12.8,
  15.2, 13.0, 14.8, 13.5, 16.8, 16.2, 18.5, 14.8, 12.8, 15.0, 14.5];
const juvSprE1S50 = [1.0, 0.8, 1.1, 0.9, 0.7, 0.9, 0.8, 1.0, 0.9, 1.1, 0.9,
  1.0, 0.8, 1.1, 0.9, 1.2, 0.9, 1.1, 1.0, 1.3, 1.0, 1.2,
  1.1, 1.3, 1.0, 1.2, 1.1, 1.4, 1.1, 1.3, 1.2, 1.5, 1.2,
  1.4, 1.2, 1.5, 1.3, 1.6, 1.4, 1.7, 1.3, 1.1, 1.2, 1.0];
const juvSprE1S50Dash = [1.2, 1.0, 1.3, 1.1, 0.9, 1.2, 1.0, 1.4, 1.2, 1.5, 1.3,
  1.4, 1.2, 1.5, 1.3, 1.6, 1.4, 1.5, 1.3, 1.7, 1.5, 1.6,
  1.5, 1.7, 1.4, 1.8, 1.6, 1.9, 1.7, 1.8, 1.6, 2.0, 1.8,
  1.9, 1.7, 2.0, 1.8, 2.1, 1.9, 2.3, 1.9, 1.7, 1.8, 1.6];

// Env2 seal50
const adHerE2S50 = [5.5, 6.5, 6.2, 7.2, 6.8, 7.5, 7.0, 7.8, 7.4, 8.4, 8.0,
  9.5, 10.5, 10.0, 11.5, 11.0, 12.2, 13.0, 12.0, 14.0, 13.0, 14.5,
  14.0, 15.0, 15.5, 14.5, 15.5, 14.5, 16.0, 16.5, 15.5, 17.5, 19.0,
  16.0, 14.0, 18.0, 19.5, 21.0, 22.0, 24.0, 20.0, 17.0, 14.5, 11.0];
const adHerE2S50Dash = [6.0, 7.8, 9.0, 8.5, 9.5, 9.0, 10.0, 9.5, 10.5, 10.5, 11.5,
  12.0, 13.0, 12.5, 14.5, 16.0, 17.7, 16.0, 17.0, 16.0, 18.5, 17.5,
  19.5, 18.5, 17.5, 20.0, 20.5, 19.0, 18.0, 20.0, 22.5, 25.3, 24.0,
  20.5, 18.0, 20.5, 22.5, 26.5, 29.8, 28.0, 24.0, 20.0, 17.0, 15.5];
const adSprE2S50 = [5.0, 4.5, 3.8, 3.0, 2.4, 3.5, 4.2, 4.0, 4.6, 4.2, 5.0,
  5.2, 6.0, 6.7, 6.0, 6.5, 6.2, 7.0, 6.6, 7.2, 7.0, 7.7,
  6.8, 6.4, 7.0, 6.6, 7.2, 6.8, 7.5, 7.0, 6.5, 7.8, 8.2,
  7.5, 5.7, 7.5, 8.5, 9.5, 10.5, 11.0, 10.0, 8.5, 7.0, 5.8];
const adSprE2S50Dash = [5.5, 5.8, 5.2, 5.5, 5.2, 6.0, 5.8, 6.5, 6.2, 6.8, 6.5,
  7.2, 6.8, 7.5, 7.2, 8.0, 7.6, 8.6, 7.8, 8.5, 8.0, 8.8,
  8.2, 8.8, 8.5, 9.0, 8.6, 9.2, 8.8, 9.5, 9.0, 9.8, 9.5,
  8.8, 9.2, 10.0, 10.5, 11.0, 11.3, 11.0, 10.0, 9.0, 8.0, 7.7];
const juvHerE2S50 = [5.0, 9.0, 6.2, 10.0, 6.0, 9.5, 6.5, 10.2, 6.8, 9.8, 7.2,
  12.5, 9.5, 13.0, 10.0, 14.0, 11.0, 15.5, 12.0, 15.0, 12.5, 16.0,
  13.2, 16.2, 12.8, 17.2, 13.8, 16.8, 14.2, 17.5, 15.0, 20.5, 16.5,
  10.0, 19.5, 20.5, 21.5, 19.0, 24.3, 22.5, 13.5, 17.5, 15.5, 17.7];
const juvHerE2S50Dash = [5.5, 8.8, 6.8, 9.6, 6.6, 9.2, 7.0, 9.8, 7.2, 9.6, 7.8,
  12.0, 10.0, 12.8, 10.5, 13.5, 11.5, 15.0, 12.5, 14.8, 13.0, 15.8,
  13.8, 15.8, 13.2, 17.2, 14.2, 16.2, 14.8, 17.8, 15.2, 18.8, 16.8,
  12.5, 18.5, 20.0, 21.0, 19.5, 24.0, 21.5, 14.5, 18.5, 16.5, 17.5];
const juvSprE2S50 = [1.2, 1.7, 1.4, 1.9, 1.5, 2.1, 1.7, 2.0, 1.6, 2.2, 1.9,
  2.1, 1.8, 2.4, 2.0, 2.6, 2.2, 2.8, 2.3, 3.0, 2.5, 3.5,
  2.6, 3.6, 2.7, 3.0, 2.6, 3.0, 2.8, 3.1, 2.7, 3.2, 2.9,
  3.2, 3.0, 3.4, 3.2, 4.0, 4.2, 3.8, 3.4, 1.4, 3.2, 3.4];
const juvSprE2S50Dash = [1.4, 1.9, 1.6, 2.1, 1.7, 2.2, 1.9, 2.1, 1.8, 2.3, 2.0,
  2.2, 1.9, 2.5, 2.1, 2.6, 2.3, 2.7, 2.4, 2.9, 2.6, 3.2,
  2.7, 3.3, 2.8, 3.0, 2.7, 3.1, 2.9, 3.2, 2.8, 3.3, 3.0,
  3.3, 3.1, 3.5, 3.3, 3.9, 4.3, 3.7, 3.3, 2.0, 3.0, 3.2];

// ---- facet tables: [row][col] -> {solid:[..], dash:[..]} in species order ----
const codFacets = [
  [
    { solid: [adCodE0S0, juvCodE0S0, smallCodE0S0], dash: [adCodE0S0Dash, juvCodE0S0Dash, smallCodE0S0Dash] },
    { solid: [adCodE1S0, juvCodE1S0, smallCodE1S0], dash: [adCodE1S0Dash, juvCodE1S0Dash, smallCodE1S0Dash] },
    { solid: [adCodE2S0, juvCodE2S0, smallCodE2S0], dash: [adCodE2S0Dash, juvCodE2S0Dash, smallCodE2S0Dash] }
  ],
  [
    { solid: [adCodE0S50, juvCodE0S50, smallCodE0S50], dash: [adCodE0S50Dash, juvCodE0S50Dash, smallCodE0S50Dash] },
    { solid: [adCodE1S50, juvCodE1S50, smallCodE1S50], dash: [adCodE1S50Dash, juvCodE1S50Dash, smallCodE1S50Dash] },
    { solid: [adCodE2S50, juvCodE2S50, smallCodE2S50], dash: [adCodE2S50Dash, juvCodE2S50Dash, smallCodE2S50Dash] }
  ]
];
const fishFacets = [
  [
    { solid: [adHerE0S0, adSprE0S0, juvHerE0S0, juvSprE0S0], dash: [adHerE0S0Dash, adSprE0S0Dash, juvHerE0S0Dash, juvSprE0S0Dash] },
    { solid: [adHerE1S0, adSprE1S0, juvHerE1S0, juvSprE1S0], dash: [adHerE1S0Dash, adSprE1S0Dash, juvHerE1S0Dash, juvSprE1S0Dash] },
    { solid: [adHerE2S0, adSprE2S0, juvHerE2S0, juvSprE2S0], dash: [adHerE2S0Dash, adSprE2S0Dash, juvHerE2S0Dash, juvSprE2S0Dash] }
  ],
  [
    { solid: [adHerE0S50, adSprE0S50, juvHerE0S50, juvSprE0S50], dash: [adHerE0S50Dash, adSprE0S50Dash, juvHerE0S50Dash, juvSprE0S50Dash] },
    { solid: [adHerE1S50, adSprE1S50, juvHerE1S50, juvSprE1S50], dash: [adHerE1S50Dash, adSprE1S50Dash, juvHerE1S50Dash, juvSprE1S50Dash] },
    { solid: [adHerE2S50, adSprE2S50, juvHerE2S50, juvSprE2S50], dash: [adHerE2S50Dash, adSprE2S50Dash, juvHerE2S50Dash, juvSprE2S50Dash] }
  ]
];

const envLabels = ["Env0", "Env1", "Env2"];
const sealLabels = ["seal0", "seal50"];

// ---- layout ----
const FONT = '"Liberation Sans", Arial, sans-serif';
const page = document.getElementById('page');

const panelA = {
  names: codNames, colors: codColors, hist: [adCodHist, juvCodHist, smallCodHist], facets: codFacets,
  cols: [49, 257, 465], w: 202, rows: [17, 248], h: 227, stripTop: 0,
  ymin: -0.26, ymax: 5.48, ystep: 0.5, ymajor: 1, xpad: 3,
  letter: "A", letterTop: 2, yearTop: 494, titleMid: 246
};
const panelB = {
  names: fishNames, colors: fishColors, hist: [adHerringHist, adSpratHist, juvHerringHist, juvSpratHist], facets: fishFacets,
  cols: [51, 258, 466], w: 201, rows: [544, 777], h: 227, stripTop: 527,
  ymin: -1.4, ymax: 31.3, ystep: 5, ymajor: 10, xpad: 5,
  letter: "B", letterTop: 514, yearTop: 1029, titleMid: 774
};

function addDiv(cls, css, html) {
  const d = document.createElement('div');
  d.className = cls;
  Object.assign(d.style, css);
  d.innerHTML = html || '';
  page.appendChild(d);
  return d;
}

const framePlugin = {
  id: 'frame',
  afterDraw(chart) {
    const { ctx, chartArea: a } = chart;
    ctx.save();
    ctx.strokeStyle = '#b3b3b3';
    ctx.lineWidth = 1;
    ctx.strokeRect(a.left + 0.5, a.top + 0.5, a.width - 1, a.height - 1);
    ctx.restore();
  }
};

function toPoints(vals) {
  return years.map((x, i) => ({ x: x, y: vals[i] }));
}

// axis sizes are fixed so the plot areas line up across facets
function fixBox(size, horizontal) {
  return s => {
    if (horizontal) s.height = size; else s.width = size;
    s.paddingTop = 0; s.paddingBottom = 0; s.paddingLeft = 0; s.paddingRight = 0;
  };
}

function makeFacet(P, r, c) {
  const padL = c === 0 ? 40 : 0;
  const padB = r === 1 ? 30 : 0;
  const W = P.w + padL, H = P.h + padB;
  const cv = document.createElement('canvas');
  cv.width = W; cv.height = H;
  Object.assign(cv.style, { left: (P.cols[c] - padL) + 'px', top: P.rows[r] + 'px', width: W + 'px', height: H + 'px' });
  page.appendChild(cv);

  const f = P.facets[r][c];
  const datasets = [];
  P.names.forEach((n, i) => {
    datasets.push({ label: n + ' dash', data: toPoints(P.hist[i].concat(f.dash[i])), borderColor: P.colors[i],
      borderWidth: 2, borderDash: [3.5, 3], pointRadius: 0, fill: false, tension: 0 });
  });
  P.names.forEach((n, i) => {
    datasets.push({ label: n, data: toPoints(P.hist[i].concat(f.solid[i])), borderColor: P.colors[i],
      borderWidth: 2, pointRadius: 0, fill: false, tension: 0 });
  });

  const isMajorY = v => Math.abs(v / P.ymajor - Math.round(v / P.ymajor)) < 1e-6;
  new Chart(cv, {
    type: 'line',
    data: { datasets },
    options: {
      responsive: false, animation: false, devicePixelRatio: 1, events: [],
      layout: { padding: 0, autoPadding: false },
      plugins: { legend: { display: false }, tooltip: { enabled: false } },
      scales: {
        x: {
          type: 'linear', min: 1967.7, max: 2106.3,
          border: { display: false },
          afterFit: fixBox(padB, true),
          grid: {
            color: ctx => ctx.tick.value % 40 === 0 ? '#ebebeb' : '#f5f5f5',
            drawTicks: padB > 0, tickLength: 4,
            tickColor: ctx => ctx.tick.value % 40 === 0 ? '#b3b3b3' : 'rgba(0,0,0,0)'
          },
          ticks: {
            display: padB > 0, stepSize: 20, includeBounds: false, autoSkip: false, maxRotation: 0,
            maxTicksLimit: 1000, padding: P.xpad, color: '#4d4d4d', font: { size: 13, family: FONT },
            callback: v => v % 40 === 0 ? String(v) : ''
          }
        },
        y: {
          type: 'linear', min: P.ymin, max: P.ymax,
          border: { display: false },
          afterFit: fixBox(padL, false),
          grid: {
            color: ctx => isMajorY(ctx.tick.value) ? '#ebebeb' : '#f5f5f5',
            drawTicks: padL > 0, tickLength: 4,
            tickColor: ctx => isMajorY(ctx.tick.value) ? '#b3b3b3' : 'rgba(0,0,0,0)'
          },
          ticks: {
            display: padL > 0, stepSize: P.ystep, includeBounds: false, autoSkip: false,
            maxTicksLimit: 1000, padding: 3, color: '#4d4d4d', font: { size: 13, family: FONT },
            callback: v => isMajorY(v) ? String(Math.round(v)) : ''
          }
        }
      }
    },
    plugins: [framePlugin]
  });
}

function makePanel(P) {
  // top strips
  envLabels.forEach((e, c) => {
    addDiv('strip', { left: P.cols[c] + 'px', top: P.stripTop + 'px', width: P.w + 'px', height: '16px' }, e);
  });
  // right strips
  sealLabels.forEach((s, r) => {
    addDiv('strip', { left: '668px', top: P.rows[r] + 'px', width: '17px', height: P.h + 'px' }, '<span class="rot">' + s + '</span>');
  });
  for (let r = 0; r < 2; r++) for (let c = 0; c < 3; c++) makeFacet(P, r, c);
  // panel letter, axis titles
  addDiv('txt', { left: '3px', top: P.letterTop + 'px', fontSize: '15px', fontWeight: 'bold' }, P.letter);
  addDiv('txt', { left: '250px', width: '220px', textAlign: 'center', top: P.yearTop + 'px', fontSize: '15px' }, 'Year');
  addDiv('txt', { left: (13 - 100) + 'px', width: '200px', textAlign: 'center', top: (P.titleMid - 9) + 'px',
    height: '18px', lineHeight: '18px', fontSize: '15px', transform: 'rotate(-90deg)' }, 'Biomass (t/km²)');
}

function makeLegend(P, x, yTop, keyH, fontSize) {
  P.names.forEach((n, i) => {
    const top = yTop + i * keyH;
    addDiv('key', { left: x + 'px', top: top + 'px', width: '14px', height: keyH + 'px' },
      '<i style="background:' + P.colors[i] + '"></i>');
    addDiv('txt', { left: (x + 17) + 'px', top: top + 'px', height: keyH + 'px', lineHeight: keyH + 'px',
      fontSize: fontSize + 'px', color: '#1a1a1a' }, n);
  });
}

makePanel(panelA);
makePanel(panelB);
makeLegend(panelA, 151, 33, 14.8, 13);
makeLegend(panelB, 313, 551.5, 15.4, 14);
</script>
</body>
</html>
